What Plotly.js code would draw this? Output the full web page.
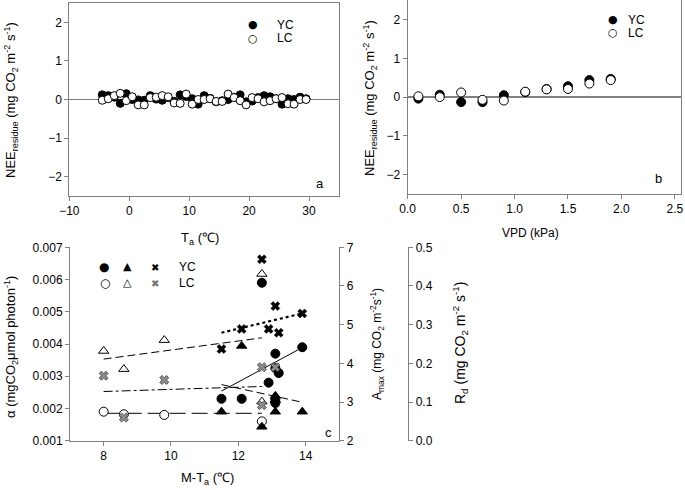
<!DOCTYPE html>
<html>
<head>
<meta charset="utf-8">
<script src="https://cdn.plot.ly/plotly-3.0.1.min.js"></script>
<style>html,body{margin:0;padding:0;background:#fff;}#chart{width:685px;height:490px;}</style>
</head>
<body>
<div id="chart"></div>
<script>
// ---------- Panel a : NEE residue vs Ta ----------
var taX = [-4.5,-3.5,-2.5,-1.5,-0.5,0.5,1.5,2.5,3.5,4.5,5.5,6.5,7.5,8.5,9.5,10.5,11.5,12.5,13.5,14.5,15.5,16.5,17.5,18.5,19.5,20.5,21.5,22.5,23.5,24.5,25.5,26.5,27.5,28.5,29.5];
var ycTa = [0.12,0.10,0.06,-0.10,0.15,0.00,-0.01,-0.02,0.10,0.01,-0.02,0.05,-0.05,0.12,0.08,0.02,-0.12,0.10,0.03,-0.06,-0.03,0.00,0.06,0.12,-0.06,-0.04,0.05,0.10,0.07,0.02,-0.12,0.02,0.00,0.06,0.02];
var lcTa = [-0.02,0.02,0.10,0.16,-0.03,0.07,-0.14,-0.14,0.05,0.06,0.10,0.07,-0.09,-0.10,0.14,-0.12,0.00,0.00,0.02,-0.05,-0.05,0.14,0.05,-0.03,-0.14,0.05,0.02,-0.06,-0.03,0.02,0.05,-0.11,-0.12,0.00,0.00];

// ---------- Panel b : NEE residue vs VPD ----------
var vpdX = [0.1,0.3,0.5,0.7,0.9,1.1,1.3,1.5,1.7,1.9];
var ycVpd = [-0.04,0.06,-0.13,-0.13,0.05,0.13,0.21,0.28,0.44,0.47];
var lcVpd = [0.02,0.00,0.12,-0.07,-0.09,0.14,0.20,0.21,0.35,0.44];

// ---------- Panel c : alpha, Amax, Rd vs M-Ta ----------
var ycAlphaX = [11.5,12.1,12.7,12.9,13.1,13.1,13.2,13.1,13.1,13.9];
var ycAlpha  = [0.0023,0.0023,0.0059,0.0028,0.0037,0.00325,0.0031,0.00217,0.00229,0.0039];
var lcAlphaX = [8,8.6,9.8,12.7];
var lcAlpha  = [0.0019,0.00182,0.0018,0.0016];
var ycAmaxX = [11.5,12.1,12.7,13.1,13.1,13.1,13.9];
var ycAmax  = [2.75,4.45,2.36,3.16,3.05,2.75,2.75];
var lcAmaxX = [8,8.6,9.8,12.7,12.7];
var lcAmax  = [4.32,3.85,4.6,6.31,3.01];
var ycRdX = [11.5,12.1,12.7,12.9,13.1,13.2,13.9];
var ycRd  = [0.237,0.289,0.469,0.289,0.348,0.279,0.329];
var lcRdX = [8,8.6,9.8,12.7,12.7,13.1];
var lcRd  = [0.168,0.06,0.157,0.19,0.092,0.19];

// fitted regression lines (y = intercept + slope * x over [x0, x1])
var fitAxis      = ['y3','y3','y4','y4','y5','y5'];
var fitX0        = [11.5, 8, 8, 11.5, 11.5, 8];
var fitX1        = [13.9, 12.7, 12.7, 13.9, 13.9, 12.7];
var fitSlope     = [0.0005625, 0, 0.117, -0.19, 0.0208, 0.00277];
var fitIntercept = [-0.003929, 0.00185, 3.174, 5.635, 0.04, 0.105];
var fitDash      = ['solid','16px,6px','8px,4px','8px,4px','dot','dashdot'];
var fitWidth     = [1, 1, 1, 1, 2.2, 1];

var FONT = 'Liberation Sans, Arial, sans-serif';
var GREY = '#808080';

function filled(size, sym){ return {symbol: sym||'circle', size: size, color: '#000', line: {color: '#000', width: 1}}; }
function open(size, sym){ return {symbol: sym||'circle', size: size, color: '#fff', line: {color: '#000', width: 1}}; }

var traces = [];
traces.push({x: taX, y: ycTa, xaxis: 'x', yaxis: 'y', mode: 'markers', marker: filled(8), name: 'YC', showlegend: false});
traces.push({x: taX, y: lcTa, xaxis: 'x', yaxis: 'y', mode: 'markers', marker: open(8), name: 'LC', showlegend: false});
traces.push({x: vpdX, y: ycVpd, xaxis: 'x2', yaxis: 'y2', mode: 'markers', marker: filled(9), name: 'YC', showlegend: false});
traces.push({x: vpdX, y: lcVpd, xaxis: 'x2', yaxis: 'y2', mode: 'markers', marker: open(9), name: 'LC', showlegend: false});

for (var i = 0; i < fitX0.length; i++) {
  traces.push({
    x: [fitX0[i], fitX1[i]],
    y: [fitIntercept[i] + fitSlope[i]*fitX0[i], fitIntercept[i] + fitSlope[i]*fitX1[i]],
    xaxis: 'x3', yaxis: fitAxis[i], mode: 'lines', showlegend: false,
    line: {color: '#000', width: fitWidth[i], dash: fitDash[i]}
  });
}
traces.push({x: lcRdX, y: lcRd, xaxis: 'x3', yaxis: 'y5', mode: 'markers', showlegend: false,
  marker: {symbol: 'x', size: 8, color: '#8a8a8a', line: {color: '#444', width: 0.8}}});
traces.push({x: ycRdX, y: ycRd, xaxis: 'x3', yaxis: 'y5', mode: 'markers', showlegend: false,
  marker: {symbol: 'x', size: 8, color: '#000', line: {color: '#000', width: 0.5}}});
traces.push({x: lcAmaxX, y: lcAmax, xaxis: 'x3', yaxis: 'y4', mode: 'markers', showlegend: false, marker: open(9, 'triangle-up')});
traces.push({x: ycAmaxX, y: ycAmax, xaxis: 'x3', yaxis: 'y4', mode: 'markers', showlegend: false, marker: filled(9, 'triangle-up')});
traces.push({x: lcAlphaX, y: lcAlpha, xaxis: 'x3', yaxis: 'y3', mode: 'markers', showlegend: false, marker: open(9)});
traces.push({x: ycAlphaX, y: ycAlpha, xaxis: 'x3', yaxis: 'y3', mode: 'markers', showlegend: false, marker: filled(9)});

function ax(extra){
  var a = {showgrid: false, zeroline: false, showline: true, linecolor: GREY, linewidth: 1,
    ticks: 'outside', ticklen: 4, tickcolor: GREY, tickwidth: 1,
    tickfont: {family: FONT, size: 12, color: '#000'}};
  for (var k in extra) a[k] = extra[k];
  return a;
}
function PX(v){ return v/685; }
function PY(v){ return 1 - v/490; }
function ann(text, x, y, o){
  var a = {text: text, x: PX(x), y: PY(y), xref: 'paper', yref: 'paper', showarrow: false,
    xanchor: 'center', yanchor: 'middle', font: {family: FONT, size: 12, color: '#000'}};
  for (var k in o) a[k] = o[k];
  return a;
}
var neeTitle = 'NEE<sub>residue</sub> (mg CO<sub>2</sub> m<sup>-2</sup> s<sup>-1</sup>)';
var sym = 'DejaVu Sans, sans-serif';

var layout = {
  width: 685, height: 490, margin: {l: 0, r: 0, t: 0, b: 0},
  paper_bgcolor: '#fff', plot_bgcolor: 'rgba(0,0,0,0)', showlegend: false,
  xaxis: ax({domain: [PX(69.3), PX(339)], range: [-10, 35], dtick: 10, anchor: 'y', mirror: true}),
  yaxis: ax({domain: [PY(196), PY(3)], range: [-2.5, 2.5], dtick: 1, anchor: 'x', mirror: true,
    zeroline: true, zerolinecolor: GREY, zerolinewidth: 1.5}),
  xaxis2: ax({domain: [PX(407.7), PX(680.5)], range: [0, 2.553], dtick: 0.5, tickformat: '.1f', anchor: 'y2', mirror: true}),
  yaxis2: ax({domain: [PY(193.7), 0.999], range: [-2.5, 2.5], dtick: 1, anchor: 'x2', mirror: true,
    zeroline: true, zerolinecolor: GREY, zerolinewidth: 1.5}),
  xaxis3: ax({domain: [PX(70), PX(339.3)], range: [7, 15], dtick: 2, anchor: 'y3'}),
  yaxis3: ax({domain: [PY(440.7), PY(247.3)], range: [0.001, 0.007], dtick: 0.001, tickformat: '.3f', anchor: 'x3'}),
  yaxis4: ax({range: [2, 7], dtick: 1, overlaying: 'y3', side: 'right', anchor: 'x3'}),
  yaxis5: ax({range: [0, 0.5], dtick: 0.1, tickformat: '.1f', overlaying: 'y3', side: 'right', anchor: 'free', position: PX(408.3)}),
  annotations: [
    // axis titles
    ann(neeTitle, 11, 100, {textangle: -90, font: {family: FONT, size: 13, color: '#000'}}),
    ann('T<sub>a</sub> (℃)', 200, 238, {font: {family: FONT, size: 13, color: '#000'}}),
    ann(neeTitle, 370, 98, {textangle: -90, font: {family: FONT, size: 13, color: '#000'}}),
    ann('VPD (kPa)', 530, 233, {font: {family: FONT, size: 12, color: '#000'}}),
    ann('α (mgCO<sub>2</sub>μmol photon<sup>-1</sup>)', 11, 347, {textangle: -90, font: {family: FONT, size: 13, color: '#000'}}),
    ann('M-T<sub>a</sub> (℃)', 207, 478, {font: {family: FONT, size: 13, color: '#000'}}),
    ann('A<sub>max</sub> (mg CO<sub>2</sub> m<sup>-2</sup>s<sup>-1</sup>)', 377, 344, {textangle: -90, font: {family: FONT, size: 12, color: '#000'}}),
    ann('R<sub>d</sub> (mg CO<sub>2</sub> m<sup>-2</sup> s<sup>-1</sup>)', 460, 343, {textangle: -90, font: {family: FONT, size: 14, color: '#000'}}),
    // panel letters
    ann('a', 320, 183, {font: {family: FONT, size: 13, color: '#000'}}),
    ann('b', 658, 179, {font: {family: FONT, size: 13, color: '#000'}}),
    ann('c', 328, 432, {font: {family: FONT, size: 13, color: '#000'}}),
    // legend panel a
    ann('●', 253, 25, {font: {family: sym, size: 11, color: '#000'}}),
    ann('○', 253, 38, {font: {family: sym, size: 11, color: '#000'}}),
    ann('YC', 275, 25, {xanchor: 'left', font: {family: FONT, size: 12, color: '#000'}}),
    ann('LC', 275, 38, {xanchor: 'left', font: {family: FONT, size: 12, color: '#000'}}),
    // legend panel b
    ann('●', 613, 19.5, {font: {family: sym, size: 11, color: '#000'}}),
    ann('○', 613, 32.5, {font: {family: sym, size: 11, color: '#000'}}),
    ann('YC', 626, 19.5, {xanchor: 'left', font: {family: FONT, size: 12, color: '#000'}}),
    ann('LC', 626, 32.5, {xanchor: 'left', font: {family: FONT, size: 12, color: '#000'}}),
    // legend panel c
    ann('●', 104, 267, {font: {family: sym, size: 12, color: '#000'}}),
    ann('▲', 127, 266, {font: {family: sym, size: 11, color: '#000'}}),
    ann('✖', 155, 267, {font: {family: sym, size: 10, color: '#000'}}),
    ann('YC', 177, 267, {xanchor: 'left', font: {family: FONT, size: 12, color: '#000'}}),
    ann('○', 105, 283, {font: {family: sym, size: 12, color: '#000'}}),
    ann('△', 127, 282, {font: {family: sym, size: 11, color: '#000'}}),
    ann('✖', 155, 283, {font: {family: sym, size: 10, color: '#777'}}),
    ann('LC', 177, 283, {xanchor: 'left', font: {family: FONT, size: 12, color: '#000'}})
  ]
};

Plotly.newPlot('chart', traces, layout, {staticPlot: true, displayModeBar: false});
</script>
</body>
</html>
